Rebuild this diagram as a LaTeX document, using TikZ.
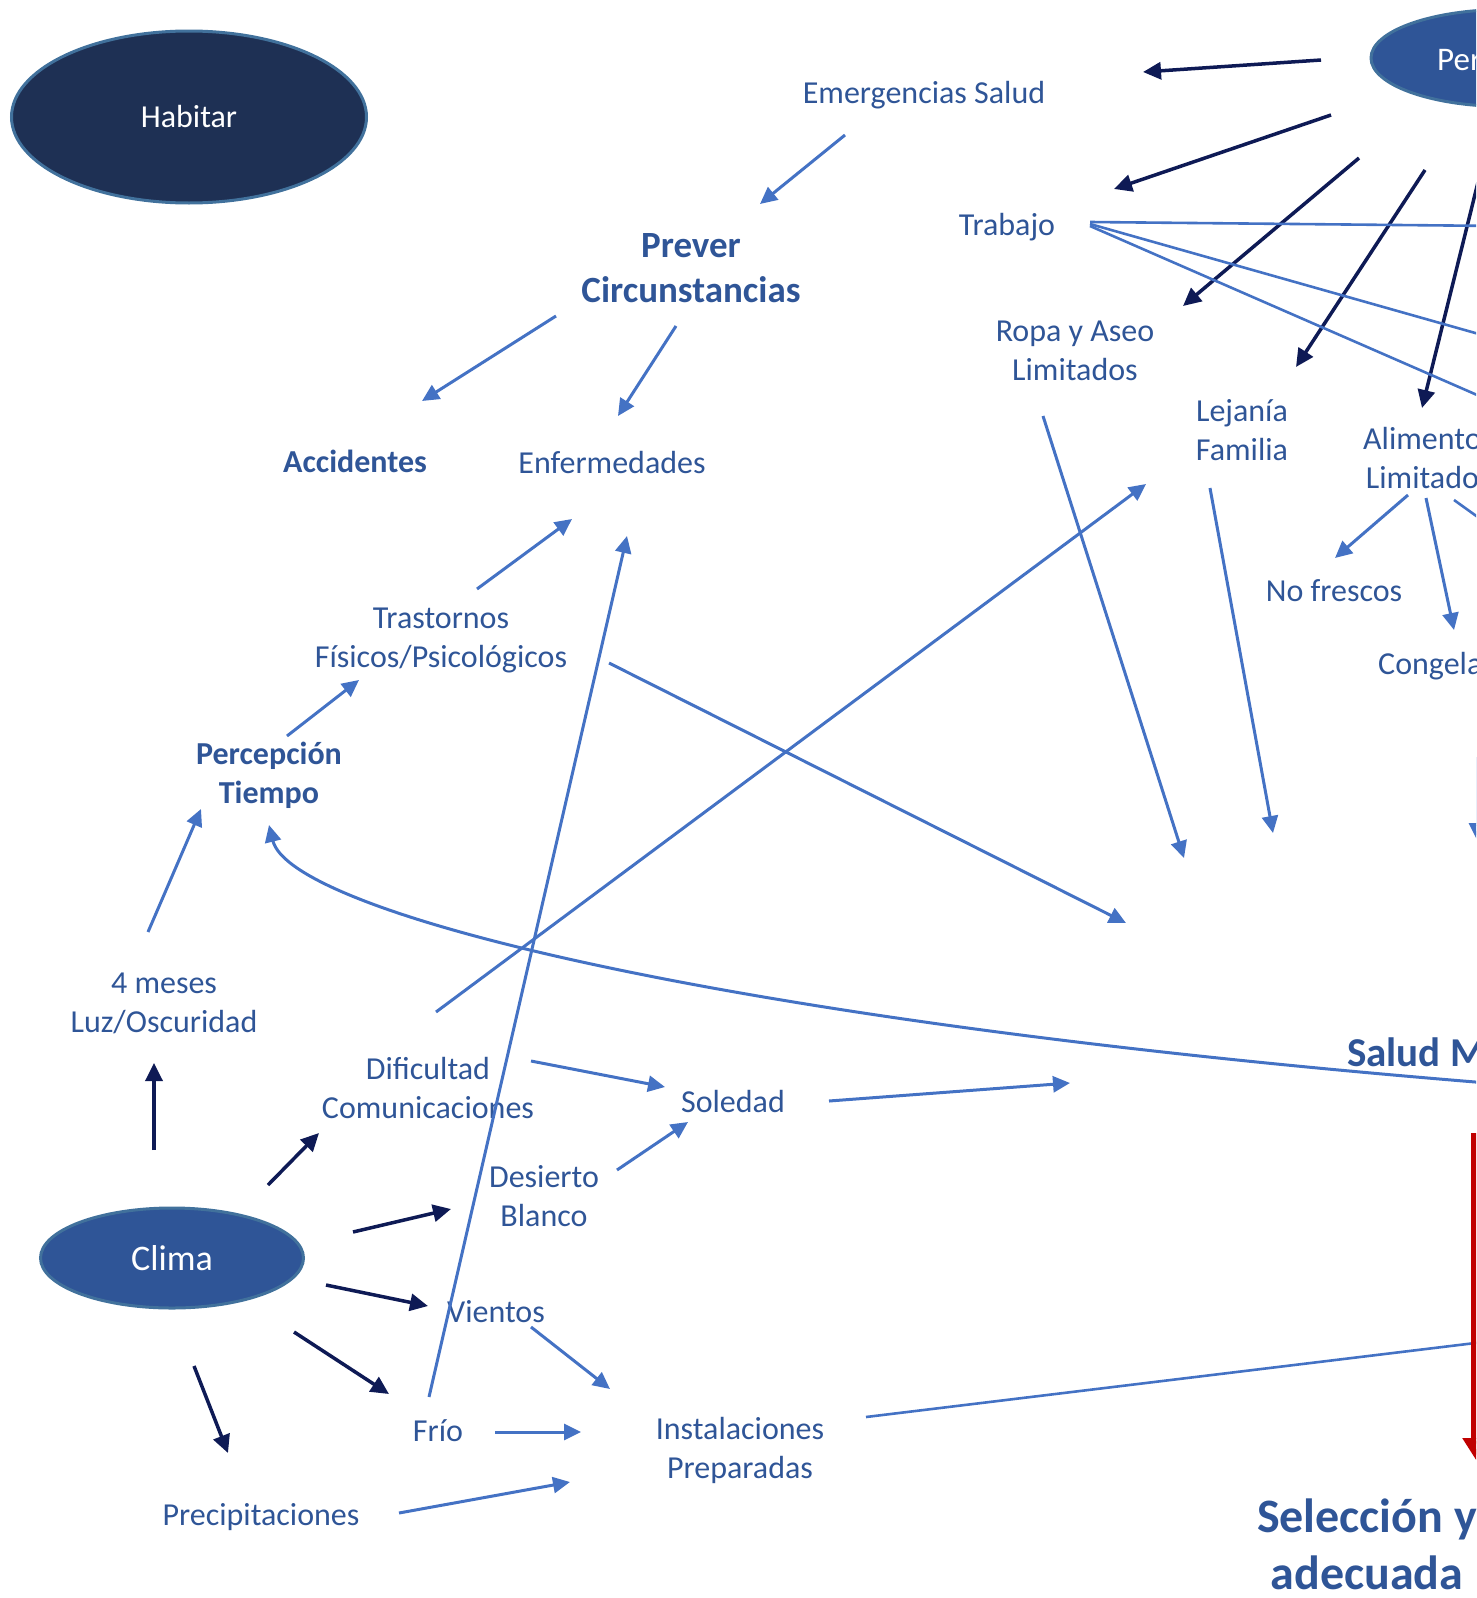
\documentclass[tikz,border=0pt]{standalone}
\usepackage{fontspec}
\setmainfont{Carlito}
\usetikzlibrary{arrows.meta,shapes.geometric}
\definecolor{txtblue}{RGB}{47,85,151}
\definecolor{lineblue}{RGB}{68,114,196}
\definecolor{arrownavy}{RGB}{14,26,85}
\definecolor{darkfill}{RGB}{30,48,84}
\definecolor{midfill}{RGB}{47,85,151}
\definecolor{rimblue}{RGB}{65,113,156}
\definecolor{deepred}{RGB}{192,0,0}

\begin{document}
\begin{tikzpicture}[x=1pt, y=-1pt,
  blob/.style={ellipse, draw=rimblue, line width=3pt, text=white, inner sep=0pt},
  text node/.style={text=txtblue, align=center, inner sep=2pt, font=\fontsize{32}{39}\selectfont},
  bold node/.style={text node, font=\fontsize{32}{39}\selectfont\bfseries},
  light arrow/.style={draw=lineblue, line width=3pt, -{Triangle[length=17pt,width=16pt]}},
  light line/.style={draw=lineblue, line width=2.6pt},
  dark arrow/.style={draw=arrownavy, line width=3.5pt, -{Triangle[length=18pt,width=17pt]}}]
  \useasboundingbox (0,0) rectangle (1476,1598);
  \clip (0,0) rectangle (1476,1598);

  \node[blob, fill=darkfill, minimum width=355pt, minimum height=172pt, font=\fontsize{32}{39}\selectfont] (habitar) at (189,117) {Habitar};
  \node[blob, fill=midfill, minimum width=270pt, minimum height=97pt] (pe) at (1506,58) {};
  \node[anchor=base west, text=white, inner sep=0pt, font=\fontsize{33}{39}\selectfont] (petext) at (1437,70) {Per};
  \node[blob, fill=midfill, minimum width=263pt, minimum height=100pt, font=\fontsize{36}{43}\selectfont] (clima) at (172,1258) {Clima};

  \node[text node] (emerg) at (924,95) {Emergencias Salud};
  \node[text node] (trabajo) at (1007,227) {Trabajo};
  \node[text node, font=\fontsize{37}{45}\selectfont\bfseries] (prever) at (691,268) {Prever\\Circunstancias};
  \node[text node] (ropa) at (1075,351) {Ropa y Aseo\\Limitados};
  \node[text node] (lejania) at (1242,430) {Lejanía\\Familia};
  \node[text node, anchor=west] (alim) at (1361,458) {Alimento\\Limitado};
  \node[text node] (nofrescos) at (1334,591) {No frescos};
  \node[text node, anchor=west] (congela) at (1376,666) {Congela};
  \node[bold node] (acc) at (355,461) {Accidentes};
  \node[text node] (enf) at (612,463) {Enfermedades};
  \node[text node] (trast) at (441,640) {Trastornos\\Físicos/Psicológicos};
  \node[bold node] (percep) at (269,775) {Percepción\\Tiempo};
  \node[text node] (meses) at (164,1003) {4 meses\\Luz/Oscuridad};
  \node[text node] (dific) at (428,1088) {Dificultad\\Comunicaciones};
  \node[text node] (soledad) at (733,1101) {Soledad};
  \node[text node] (desierto) at (544,1196) {Desierto\\Blanco};
  \node[text node] (vientos) at (496,1312) {Vientos};
  \node[text node] (frio) at (438,1431) {Frío};
  \node[text node] (instal) at (740,1450) {Instalaciones\\Preparadas};
  \node[text node] (precip) at (261,1517) {Precipitaciones};
  \node[text node, font=\fontsize{41}{49}\selectfont\bfseries, anchor=base west] (salud) at (1345,1066) {Salud M};
  \node[text node, font=\fontsize{48}{57}\selectfont\bfseries] (selec) at (1367,1544) {Selección y\\adecuada};

  \coordinate (offa) at (1500,226);
  \coordinate (offb) at (1500,340);
  \coordinate (offc) at (1500,405);
  \coordinate (offd) at (1500,1340);
  \coordinate (offe) at (1500,533);

  \draw[dark arrow] ([shift={(-185,2)}]pe.center) -- ([shift={(219,-23)}]emerg.center);
  \draw[dark arrow] ([shift={(-175,57)}]pe.center) -- ([shift={(107,-38)}]trabajo.center);
  \draw[dark arrow] ([shift={(-147,100)}]pe.center) -- ([shift={(108,-45)}]ropa.center);
  \draw[dark arrow] ([shift={(-81,112)}]pe.center) -- ([shift={(54,-63)}]lejania.center);
  \draw[dark arrow] ([shift={(-20,92)}]pe.center) -- ([shift={(61,-50)}]alim.west);

  \draw[dark arrow] ([shift={(-18,-108)}]clima.center) -- ([shift={(-10,60)}]meses.center);
  \draw[dark arrow] ([shift={(96,-73)}]clima.center) -- ([shift={(-109,45)}]dific.center);
  \draw[dark arrow] ([shift={(181,-26)}]clima.center) -- ([shift={(-93,13)}]desierto.center);
  \draw[dark arrow] ([shift={(154,27)}]clima.center) -- ([shift={(-68,-6)}]vientos.center);
  \draw[dark arrow] ([shift={(122,74)}]clima.center) -- ([shift={(-49,-37)}]frio.center);
  \draw[dark arrow] ([shift={(22,108)}]clima.center) -- ([shift={(-33,-64)}]precip.center);

  \draw[light line] ([shift={(83,-5)}]trabajo.center) -- (offa);
  \draw[light line] ([shift={(83,-3)}]trabajo.center) -- (offb);
  \draw[light line] ([shift={(83,-1)}]trabajo.center) -- (offc);

  \draw[light arrow] ([shift={(-79,40)}]emerg.center) -- ([shift={(69,-64)}]prever.center);
  \draw[light arrow] ([shift={(-135,48)}]prever.center) -- ([shift={(67,-60)}]acc.center);
  \draw[light arrow] ([shift={(-15,58)}]prever.center) -- ([shift={(6,-47)}]enf.center);
  \draw[light arrow] ([shift={(36,-51)}]trast.center) -- ([shift={(-40,56)}]enf.center);
  \draw[light arrow] ([shift={(-9,-34)}]frio.center) -- ([shift={(15,73)}]enf.center);
  \draw[light arrow] ([shift={(18,-39)}]percep.center) -- ([shift={(-82,40)}]trast.center);
  \draw[light arrow] ([shift={(-16,-71)}]meses.center) -- ([shift={(-68,34)}]percep.center);
  \draw[light arrow] ([shift={(155,18)}]salud.base west) .. controls (700,1020) and (290,910) .. ([shift={(0,50)}]percep.center);
  \draw[light arrow] ([shift={(8,-76)}]dific.center) -- ([shift={(-96,54)}]lejania.center);
  \draw[light arrow] ([shift={(168,23)}]trast.center) -- ([shift={(-219,-143)}]salud.base west);
  \draw[light arrow] ([shift={(103,-27)}]dific.center) -- ([shift={(-68,-14)}]soledad.center);
  \draw[light arrow] ([shift={(73,-26)}]desierto.center) -- ([shift={(-45,21)}]soledad.center);
  \draw[light arrow] ([shift={(96,0)}]soledad.center) -- ([shift={(-275,17)}]salud.base west);
  \draw[light arrow] ([shift={(-32,65)}]ropa.center) -- ([shift={(-161,-208)}]salud.base west);
  \draw[light arrow] ([shift={(-32,58)}]lejania.center) -- ([shift={(-72,-233)}]salud.base west);
  \draw[light arrow] ([shift={(47,37)}]alim.west) -- ([shift={(1,-33)}]nofrescos.center);
  \draw[light arrow] ([shift={(65,40)}]alim.west) -- ([shift={(78,-36)}]congela.west);
  \draw[light line] ([shift={(93,42)}]alim.west) -- (offe);
  \draw[light arrow] ([shift={(101,91)}]congela.west) -- ([shift={(132,-226)}]salud.base west);
  \draw[light arrow] ([shift={(35,15)}]vientos.center) -- ([shift={(-130,-61)}]instal.center);
  \draw[light arrow] ([shift={(57,1)}]frio.center) -- ([shift={(-159,-18)}]instal.center);
  \draw[light arrow] ([shift={(138,-4)}]precip.center) -- ([shift={(-170,32)}]instal.center);
  \draw[light line] ([shift={(126,-33)}]instal.center) -- (offd);

  \draw[deepred, line width=10pt, -{Triangle[length=22pt,width=26pt]}] ([shift={(131,67)}]salud.base west) -- ([shift={(109,-84)}]selec.center);
\end{tikzpicture}
\end{document}
